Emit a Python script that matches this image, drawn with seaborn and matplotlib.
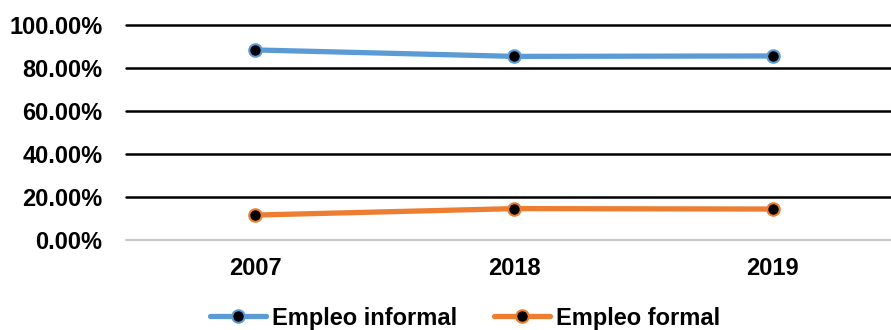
import matplotlib
matplotlib.use("Agg")
import matplotlib.pyplot as plt
import seaborn as sns
import pandas as pd
from matplotlib.lines import Line2D

years = ["2007", "2018", "2019"]
informal = [88.4, 85.4, 85.6]
formal = [11.6, 14.6, 14.4]
series_names = ["Empleo informal", "Empleo formal"]
colors = ["#5B9BD5", "#ED7D31"]
y_ticks = [0, 20, 40, 60, 80, 100]

sns.set_theme(style="white")
plt.rcParams["font.family"] = ["Liberation Sans", "DejaVu Sans"]
plt.rcParams["font.weight"] = "bold"
plt.rcParams["text.color"] = "black"

df = pd.DataFrame({
    "pos": list(range(len(years))) * 2,
    "valor": informal + formal,
    "serie": [series_names[0]] * len(years) + [series_names[1]] * len(years),
})

fig = plt.figure(figsize=(8.91, 3.30), dpi=100)
ax = fig.add_axes([126 / 891, 90 / 330, 776 / 891, 215 / 330])

for name, col in zip(series_names, colors):
    sub = df[df["serie"] == name]
    sns.lineplot(data=sub, x="pos", y="valor", ax=ax, color=col, lw=3.8,
                 marker="o", markersize=9, markerfacecolor="black",
                 markeredgecolor=col, markeredgewidth=1.5, legend=False)

ax.set_xlim(-0.5, 2.5)
ax.set_ylim(0, 100)
ax.set_xticks(range(len(years)))
ax.set_xticklabels(years)
ax.set_yticks(y_ticks)
ax.set_yticklabels([f"{v:.2f}%" for v in y_ticks])
ax.set_xlabel("")
ax.set_ylabel("")
ax.tick_params(axis="both", length=0, labelsize=17, colors="black")
ax.tick_params(axis="y", pad=17)
ax.tick_params(axis="x", pad=12)
for s in ax.spines.values():
    s.set_visible(False)

ax.set_axisbelow(True)
ax.grid(axis="y", color="black", lw=1.8)
ax.grid(axis="x", visible=False)
glines = ax.yaxis.get_gridlines()
for gl in glines:
    gl.set_clip_on(False)
glines[0].set_color("#c8c8c8")
glines[0].set_linewidth(1.5)

handles = [Line2D([0], [0], color=c, lw=3.8, marker="o", markersize=9,
                  markerfacecolor="black", markeredgecolor=c, markeredgewidth=1.5)
           for c in colors]
leg = fig.legend(handles, series_names, loc="center", bbox_to_anchor=(0.522, 12 / 330),
                 ncol=2, frameon=False, fontsize=17, handlelength=2.35,
                 columnspacing=1.6, handletextpad=0.25)
for t in leg.get_texts():
    t.set_color("black")

fig.savefig("out.png", dpi=100)
